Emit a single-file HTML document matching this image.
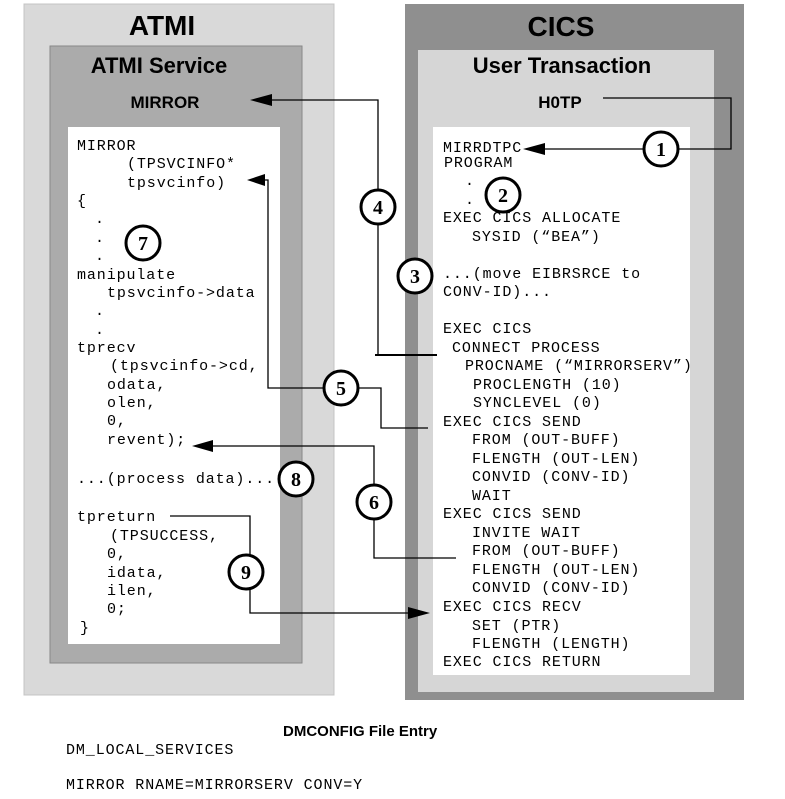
<!DOCTYPE html>
<html><head><style>body{margin:0;background:#fff}svg{display:block}
.c{font-family:"Liberation Mono",monospace;font-size:15px;letter-spacing:0.9px;fill:#000}
.h{font-family:"Liberation Sans",sans-serif;font-weight:bold;fill:#000}
.n{font-family:"Liberation Serif",serif;font-weight:bold;font-size:20px;text-anchor:middle}
circle{fill:#fff;stroke:#000;stroke-width:3}
.l{stroke:#000;stroke-width:1.3;fill:none}
</style></head><body>
<svg width="785" height="799" viewBox="0 0 785 799" xmlns="http://www.w3.org/2000/svg">
<rect x="24" y="4" width="310" height="691" fill="#d9d9d9" stroke="#c4c4c4"/>
<rect x="50" y="46" width="252" height="617" fill="#ababab" stroke="#888"/>
<rect x="68" y="127" width="212" height="517" fill="#fff"/>
<rect x="405" y="4" width="339" height="696" fill="#8f8f8f"/>
<rect x="418" y="50" width="296" height="642" fill="#d6d6d6"/>
<rect x="433" y="127" width="257" height="548" fill="#fff"/>
<text class="h" x="162" y="35" font-size="28" text-anchor="middle">ATMI</text>
<text class="h" x="159" y="73" font-size="22" text-anchor="middle">ATMI Service</text>
<text class="h" x="165" y="108" font-size="17" text-anchor="middle">MIRROR</text>
<text class="h" x="561" y="36" font-size="28" text-anchor="middle">CICS</text>
<text class="h" x="562" y="73" font-size="22" text-anchor="middle">User Transaction</text>
<text class="h" x="560" y="108" font-size="17" text-anchor="middle">H0TP</text>
<g class="c">
<text x="77" y="150">MIRROR</text>
<text x="127" y="168">(TPSVCINFO*</text>
<text x="127" y="187">tpsvcinfo)</text>
<text x="77" y="205">{</text>
<text x="95" y="223">.</text><text x="95" y="242">.</text><text x="95" y="260">.</text>
<text x="77" y="279">manipulate</text>
<text x="107" y="297">tpsvcinfo-&gt;data</text>
<text x="95" y="315">.</text><text x="95" y="334">.</text>
<text x="77" y="352">tprecv</text>
<text x="110" y="370">(tpsvcinfo-&gt;cd,</text>
<text x="107" y="389">odata,</text>
<text x="107" y="407">olen,</text>
<text x="107" y="425">0,</text>
<text x="107" y="444">revent);</text>
<text x="77" y="483">...(process data)...</text>
<text x="77" y="521">tpreturn</text>
<text x="110" y="540">(TPSUCCESS,</text>
<text x="107" y="558">0,</text>
<text x="107" y="577">idata,</text>
<text x="107" y="595">ilen,</text>
<text x="107" y="613">0;</text>
<text x="80" y="632">}</text>

<text x="443" y="152">MIRRDTPC</text>
<text x="444" y="167">PROGRAM</text>
<text x="465" y="185">.</text><text x="465" y="204">.</text>
<text x="443" y="222">EXEC CICS ALLOCATE</text>
<text x="472" y="241">SYSID (“BEA”)</text>
<text x="443" y="278">...(move EIBRSRCE to</text>
<text x="443" y="296">CONV-ID)...</text>
<text x="443" y="333">EXEC CICS</text>
<text x="452" y="352">CONNECT PROCESS</text>
<text x="465" y="370">PROCNAME (“MIRRORSERV”)</text>
<text x="473" y="389">PROCLENGTH (10)</text>
<text x="473" y="407">SYNCLEVEL (0)</text>
<text x="443" y="426">EXEC CICS SEND</text>
<text x="472" y="444">FROM (OUT-BUFF)</text>
<text x="472" y="463">FLENGTH (OUT-LEN)</text>
<text x="472" y="481">CONVID (CONV-ID)</text>
<text x="472" y="500">WAIT</text>
<text x="443" y="518">EXEC CICS SEND</text>
<text x="472" y="537">INVITE WAIT</text>
<text x="472" y="555">FROM (OUT-BUFF)</text>
<text x="472" y="574">FLENGTH (OUT-LEN)</text>
<text x="472" y="592">CONVID (CONV-ID)</text>
<text x="443" y="611">EXEC CICS RECV</text>
<text x="472" y="630">SET (PTR)</text>
<text x="472" y="648">FLENGTH (LENGTH)</text>
<text x="443" y="666">EXEC CICS RETURN</text>

<text x="66" y="754">DM_LOCAL_SERVICES</text>
<text x="66" y="789">MIRROR RNAME=MIRRORSERV CONV=Y</text>
</g>
<text class="h" x="283" y="736" font-size="15">DMCONFIG File Entry</text>

<path class="l" d="M603 98H731V149H661"/>
<path class="l" d="M661 149H540"/><polygon points="523,149 545,143 545,155"/>
<path class="l" d="M378 355V100H270"/><polygon points="250,100 272,94 272,106"/>
<path d="M375 355H437" stroke="#000" stroke-width="2"/>
<path class="l" d="M341 388H268V180H262"/><polygon points="247,180 265,174 265,186"/>
<path class="l" d="M341 388H381V428H428"/>
<path class="l" d="M212 446H374V558H456"/><polygon points="192,446 213,440 213,452"/>
<path class="l" d="M170 516H250V613H410"/><polygon points="430,613 408,607 408,619"/>

<g>
<circle cx="661" cy="149" r="17"/><text class="n" x="661" y="156">1</text>
<circle cx="503" cy="195" r="17"/><text class="n" x="503" y="202">2</text>
<circle cx="415" cy="276" r="17"/><text class="n" x="415" y="283">3</text>
<circle cx="378" cy="207" r="17"/><text class="n" x="378" y="214">4</text>
<circle cx="341" cy="388" r="17"/><text class="n" x="341" y="395">5</text>
<circle cx="374" cy="502" r="17"/><text class="n" x="374" y="509">6</text>
<circle cx="143" cy="243" r="17"/><text class="n" x="143" y="250">7</text>
<circle cx="296" cy="479" r="17"/><text class="n" x="296" y="486">8</text>
<circle cx="246" cy="572" r="17"/><text class="n" x="246" y="579">9</text>
</g>
</svg>
</body></html>
